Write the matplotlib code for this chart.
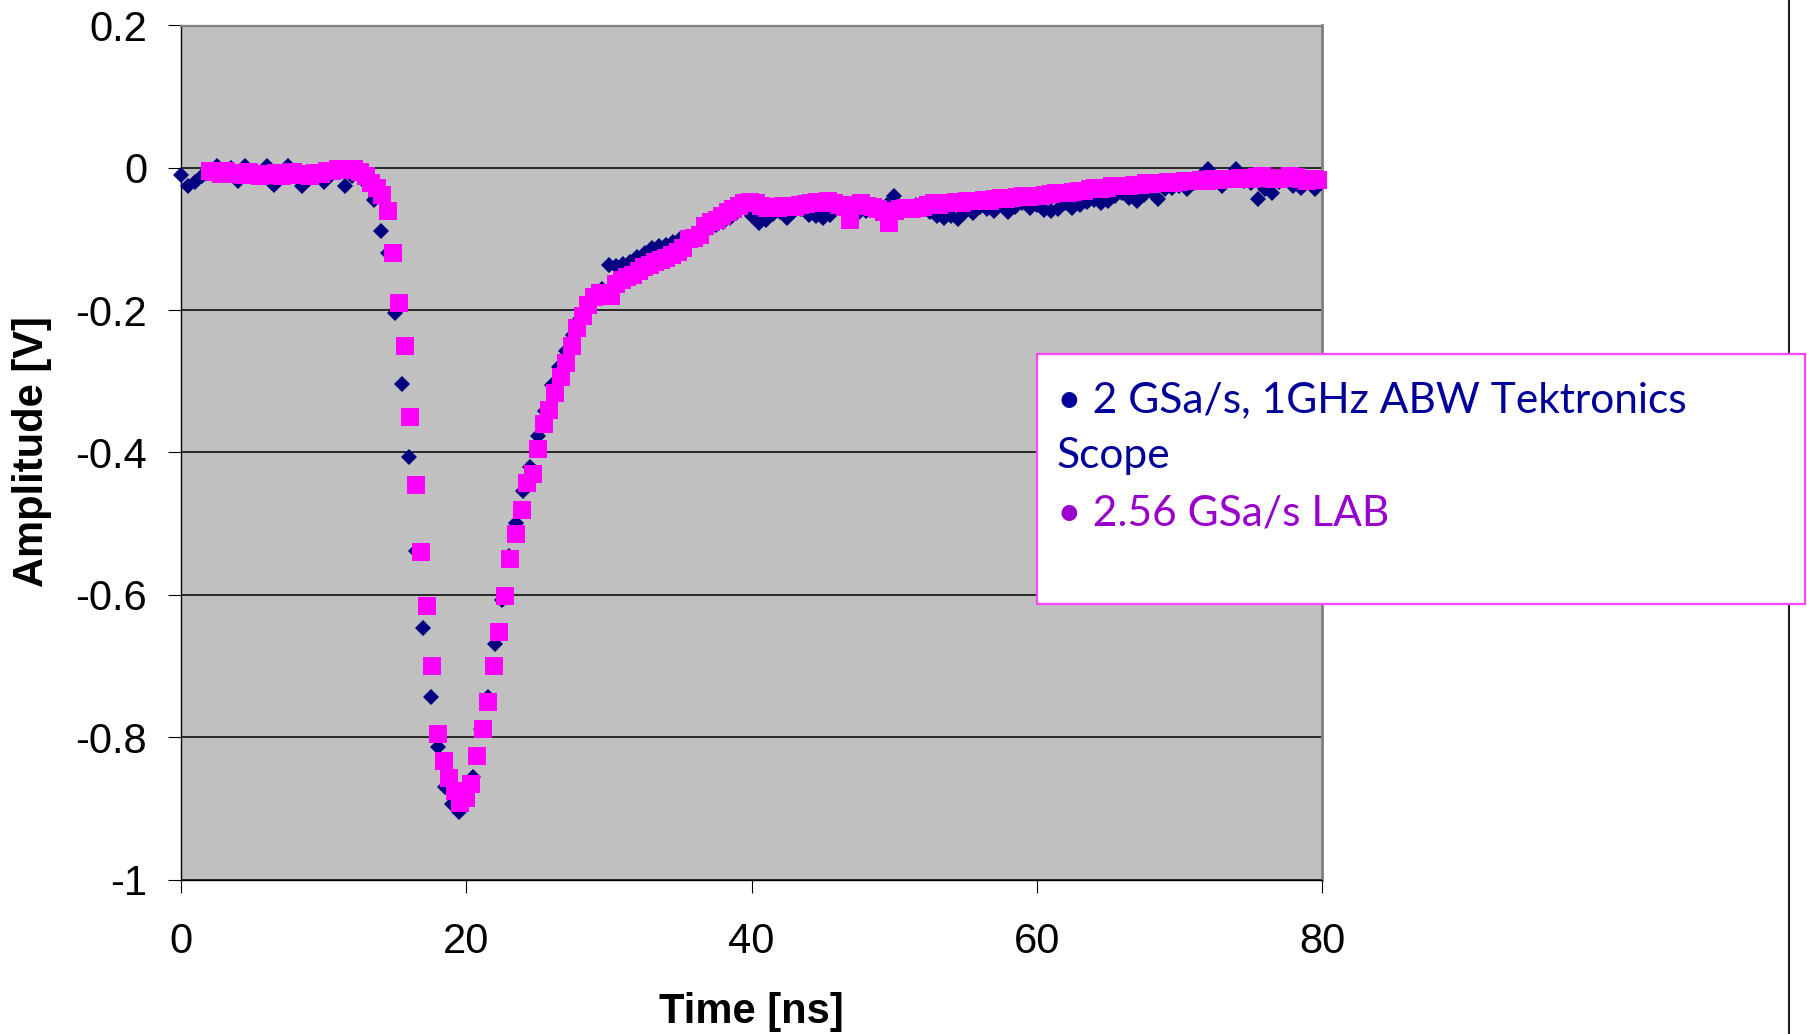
import numpy as np
import matplotlib
matplotlib.use('Agg')
import matplotlib.pyplot as plt
from matplotlib.patches import Rectangle
from matplotlib.lines import Line2D

plt.rcParams['axes.unicode_minus'] = False

# Tektronix scope trace, 2 GSa/s -> one sample every 0.5 ns starting at 0 ns
tek_start = 0.0
tek_period = 0.5
tek_amp = [
    -0.010, -0.026, -0.020, -0.012, -0.006, 0.002, -0.008, 0.000, -0.018, 0.002,
    -0.012, -0.008, 0.002, -0.024, -0.010, 0.002, -0.012, -0.025, -0.015, -0.008,
    -0.020, -0.010, -0.005, -0.025, -0.012, -0.008, -0.022, -0.045, -0.089, -0.120,
    -0.204, -0.304, -0.407, -0.538, -0.646, -0.744, -0.814, -0.870, -0.894, -0.905,
    -0.885, -0.856, -0.788, -0.744, -0.669, -0.607, -0.545, -0.499, -0.454, -0.421,
    -0.377, -0.342, -0.305, -0.280, -0.257, -0.235, -0.212, -0.195, -0.180, -0.170,
    -0.136, -0.138, -0.135, -0.133, -0.125, -0.120, -0.113, -0.110, -0.108, -0.104,
    -0.100, -0.098, -0.095, -0.092, -0.085, -0.080, -0.076, -0.070, -0.062, -0.055,
    -0.068, -0.077, -0.074, -0.065, -0.062, -0.070, -0.060, -0.058, -0.066, -0.068,
    -0.070, -0.066, -0.050, -0.055, -0.058, -0.064, -0.060, -0.056, -0.062, -0.052,
    -0.040, -0.055, -0.058, -0.052, -0.055, -0.062, -0.068, -0.070, -0.068, -0.072,
    -0.062, -0.063, -0.055, -0.058, -0.060, -0.052, -0.062, -0.055, -0.050, -0.057,
    -0.052, -0.059, -0.061, -0.058, -0.050, -0.056, -0.052, -0.048, -0.045, -0.050,
    -0.047, -0.040, -0.036, -0.042, -0.047, -0.038, -0.033, -0.044, -0.030, -0.028,
    -0.025, -0.030, -0.022, -0.012, -0.002, -0.020, -0.025, -0.015, -0.002, -0.018,
    -0.022, -0.044, -0.030, -0.035, -0.020, -0.015, -0.025, -0.028, -0.018, -0.030,
]

# LAB trace, 2.56 GSa/s -> one sample every 0.390625 ns starting at 2 ns
lab_start = 2.0
lab_period = 0.390625
lab_amp = [
    -0.004, -0.006, -0.008, -0.005, -0.009, -0.007, -0.010, -0.006, -0.009, -0.011,
    -0.008, -0.010, -0.007, -0.011, -0.009, -0.006, -0.010, -0.008, -0.011, -0.007,
    -0.009, -0.005, -0.004, -0.002, -0.001, -0.003, -0.002, -0.006, -0.012, -0.021,
    -0.028, -0.038, -0.060, -0.120, -0.190, -0.250, -0.350, -0.445, -0.540, -0.615,
    -0.700, -0.795, -0.833, -0.858, -0.876, -0.892, -0.886, -0.866, -0.826, -0.788,
    -0.750, -0.700, -0.652, -0.602, -0.550, -0.515, -0.481, -0.443, -0.430, -0.395,
    -0.360, -0.340, -0.316, -0.294, -0.274, -0.250, -0.225, -0.208, -0.193, -0.181,
    -0.176, -0.178, -0.180, -0.163, -0.158, -0.153, -0.150, -0.145, -0.140, -0.136,
    -0.133, -0.129, -0.126, -0.122, -0.118, -0.112, -0.100, -0.098, -0.094, -0.082,
    -0.076, -0.074, -0.068, -0.062, -0.058, -0.054, -0.050, -0.048, -0.050, -0.054,
    -0.056, -0.055, -0.056, -0.054, -0.053, -0.055, -0.052, -0.051, -0.050, -0.048,
    -0.049, -0.047, -0.050, -0.052, -0.055, -0.074, -0.052, -0.050, -0.054, -0.055,
    -0.058, -0.062, -0.078, -0.060, -0.058, -0.057, -0.058, -0.056, -0.055, -0.052,
    -0.050, -0.052, -0.050, -0.049, -0.048, -0.050, -0.047, -0.046, -0.046, -0.045,
    -0.046, -0.044, -0.043, -0.044, -0.042, -0.041, -0.040, -0.041, -0.040, -0.039,
    -0.038, -0.037, -0.036, -0.035, -0.036, -0.034, -0.032, -0.032, -0.030, -0.029,
    -0.030, -0.028, -0.026, -0.025, -0.026, -0.025, -0.024, -0.024, -0.022, -0.023,
    -0.022, -0.021, -0.020, -0.021, -0.020, -0.019, -0.018, -0.019, -0.017, -0.018,
    -0.016, -0.017, -0.016, -0.015, -0.016, -0.014, -0.015, -0.016, -0.013, -0.012,
    -0.014, -0.015, -0.016, -0.014, -0.012, -0.013, -0.015, -0.018, -0.016, -0.017,
]

x_ticks = [0, 20, 40, 60, 80]
x_ticklabels = ['0', '20', '40', '60', '80']
y_ticks = [-1.0, -0.8, -0.6, -0.4, -0.2, 0.0, 0.2]
y_ticklabels = ['-1', '-0.8', '-0.6', '-0.4', '-0.2', '0', '0.2']

legend_lines = ['\u2022 2 GSa/s, 1GHz ABW Tektronics', 'Scope', '\u2022 2.56 GSa/s LAB']
legend_colors = ['#000099', '#000099', '#9900CC']

tek_t = tek_start + tek_period * np.arange(len(tek_amp))
lab_t = lab_start + lab_period * np.arange(len(lab_amp))

W, H = 1808, 1034
fig = plt.figure(figsize=(W / 100, H / 100), dpi=100)
ax = fig.add_axes([181 / W, 1 - 879.5 / H, (1322 - 181) / W, (879.5 - 25.5) / H])
ax.set_facecolor('#C0C0C0')

ax.plot(tek_t, tek_amp, linestyle='none', marker='D', markersize=8.0,
        markeredgewidth=0, color='#000080', zorder=3, clip_on=False)
ax.plot(lab_t, lab_amp, linestyle='none', marker='s', markersize=12.3,
        markeredgewidth=0, color='#FF00FF', zorder=4, clip_on=False)

ax.set_xlim(0, 80)
ax.set_ylim(-1, 0.2)
ax.set_xticks(x_ticks)
ax.set_xticklabels(x_ticklabels)
ax.set_yticks(y_ticks)
ax.set_yticklabels(y_ticklabels)
ax.yaxis.grid(True, color='black', linewidth=1.1)
ax.set_axisbelow(True)

ax.tick_params(axis='both', direction='out', length=9.4, width=0.8, color='black',
               labelsize=30, labelfontfamily='Liberation Sans')
ax.tick_params(axis='y', pad=15)
ax.tick_params(axis='x', pad=21)

ax.spines['left'].set_color('black')
ax.spines['bottom'].set_color('black')
ax.spines['left'].set_linewidth(1.0)
ax.spines['bottom'].set_linewidth(1.0)
ax.spines['top'].set_color('#808080')
ax.spines['right'].set_color('#808080')
ax.spines['top'].set_linewidth(1.6)
ax.spines['right'].set_linewidth(2.0)

fig.text(751.5 / W, 1 - 1012 / H, 'Time [ns]', ha='center', va='center',
         fontsize=30, fontweight='bold', family='Liberation Sans')
fig.text(32 / W, 1 - 452 / H, 'Amplitude [V]', ha='center', va='center', rotation=90,
         fontsize=30, fontweight='bold', family='Liberation Sans')

# border line of the neighbouring panel
fig.add_artist(Line2D([1789 / W, 1789 / W], [0, 1], transform=fig.transFigure,
                      color='#222222', linewidth=1.5, zorder=1))

# legend box drawn as a text box on top of the chart
box = Rectangle((1037 / W, 1 - 604 / H), (1805 - 1037) / W, (604 - 354) / H,
                transform=fig.transFigure, facecolor='white', edgecolor='#FF44FF',
                linewidth=1.6, zorder=5)
fig.add_artist(box)
baselines = [412, 468, 525]
for txt, col, yb in zip(legend_lines, legend_colors, baselines):
    fig.text(1057 / W, 1 - yb / H, txt, color=col, ha='left', va='baseline',
             fontsize=30.6, family=['Lato', 'DejaVu Sans'], zorder=6)

fig.savefig('out.png', dpi=100)
